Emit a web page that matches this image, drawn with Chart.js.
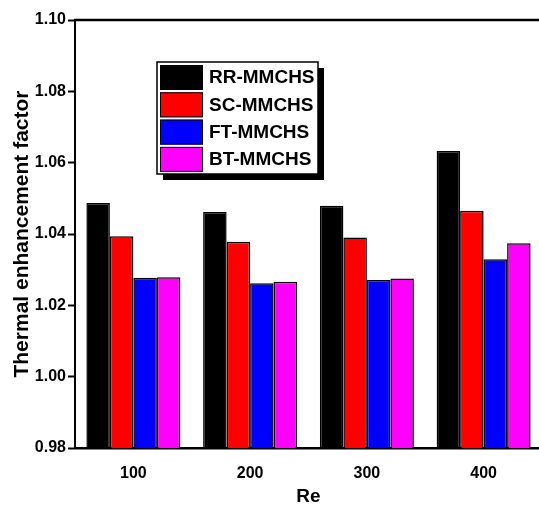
<!DOCTYPE html>
<html>
<head>
<meta charset="utf-8">
<script src="https://cdn.jsdelivr.net/npm/chart.js@4"></script>
<style>
  html, body { margin: 0; padding: 0; background: #fff; overflow: hidden; }
  #wrap { width: 539px; height: 507px; overflow: hidden; }
</style>
</head>
<body>
<div id="wrap"><canvas id="chart" width="548" height="507"></canvas></div>
<script>
// Data
const categories = ['100', '200', '300', '400'];
const seriesNames = ['RR-MMCHS', 'SC-MMCHS', 'FT-MMCHS', 'BT-MMCHS'];
const rrValues = [1.0487, 1.0462, 1.0479, 1.0633];
const scValues = [1.0394, 1.0378, 1.0390, 1.0465];
const ftValues = [1.0277, 1.0262, 1.0271, 1.0329];
const btValues = [1.0279, 1.0266, 1.0275, 1.0374];
const seriesColors = ['#000000', '#ff0000', '#0000ff', '#ff00ff'];

const FONT = "'Liberation Sans', Arial, sans-serif";

// Draws the top frame line and the boxed legend inside the plot
const framePlugin = {
    id: 'frame',
    afterDraw(chart) {
        const ctx = chart.ctx;
        const area = chart.chartArea;
        ctx.save();
        ctx.strokeStyle = '#000';
        ctx.lineWidth = 2.5;
        ctx.beginPath();
        ctx.moveTo(area.left - 1, area.top);
        ctx.lineTo(chart.width, area.top);
        ctx.stroke();

        // legend box with shadow
        const bx = 157, by = 62, bw = 161, bh = 112;
        ctx.fillStyle = '#000';
        ctx.fillRect(bx + 6, by + 6, bw, bh);
        ctx.fillStyle = '#fff';
        ctx.fillRect(bx, by, bw, bh);
        ctx.lineWidth = 1.5;
        ctx.strokeRect(bx, by, bw, bh);

        ctx.font = 'bold 19px ' + FONT;
        ctx.textBaseline = 'middle';
        ctx.textAlign = 'left';
        chart.data.datasets.forEach((ds, i) => {
            const sy = by + 3 + i * 27.3;
            ctx.fillStyle = ds.backgroundColor;
            ctx.fillRect(160, sy, 43, 25);
            ctx.lineWidth = 1;
            ctx.strokeStyle = '#000';
            ctx.strokeRect(160.5, sy + 0.5, 42, 24);
            ctx.fillStyle = '#000';
            ctx.fillText(ds.label, 209, sy + 13);
        });
        ctx.restore();
    }
};

const allValues = [rrValues, scValues, ftValues, btValues];

const chart = new Chart(document.getElementById('chart'), {
    type: 'bar',
    data: {
        labels: categories,
        datasets: seriesNames.map((name, i) => ({
            label: name,
            data: allValues[i],
            backgroundColor: seriesColors[i],
            borderColor: '#000',
            borderWidth: 1.5,
            categoryPercentage: 0.805,
            barPercentage: 1.0
        }))
    },
    options: {
        responsive: false,
        animation: false,
        devicePixelRatio: 1,
        layout: { padding: { top: 20, right: 6, left: 0, bottom: 0 } },
        plugins: {
            legend: { display: false },
            tooltip: { enabled: false }
        },
        scales: {
            x: {
                grid: { display: false },
                border: { display: true, color: '#000', width: 2.5 },
                ticks: {
                    color: '#000',
                    padding: 8,
                    font: { family: FONT, size: 16, weight: 'bold' }
                },
                title: {
                    display: true,
                    text: 'Re',
                    color: '#000',
                    padding: { top: 0, bottom: 1 },
                    font: { family: FONT, size: 19, weight: 'bold', lineHeight: 1 }
                },
                afterFit(scale) { scale.height = 59; }
            },
            y: {
                min: 0.98,
                max: 1.10,
                grid: {
                    display: true,
                    drawOnChartArea: false,
                    drawTicks: true,
                    tickLength: 7,
                    tickWidth: 2,
                    tickColor: '#000'
                },
                border: { display: true, color: '#000', width: 2 },
                ticks: {
                    stepSize: 0.02,
                    color: '#000',
                    padding: 2,
                    font: { family: FONT, size: 16, weight: 'bold' },
                    callback: v => v.toFixed(2)
                },
                title: {
                    display: true,
                    text: 'Thermal enhancement factor',
                    color: '#000',
                    padding: { top: 10, bottom: 0 },
                    font: { family: FONT, size: 21, weight: 'bold' }
                },
                afterFit(scale) { scale.width = 75; }
            }
        }
    },
    plugins: [framePlugin]
});
</script>
</body>
</html>
